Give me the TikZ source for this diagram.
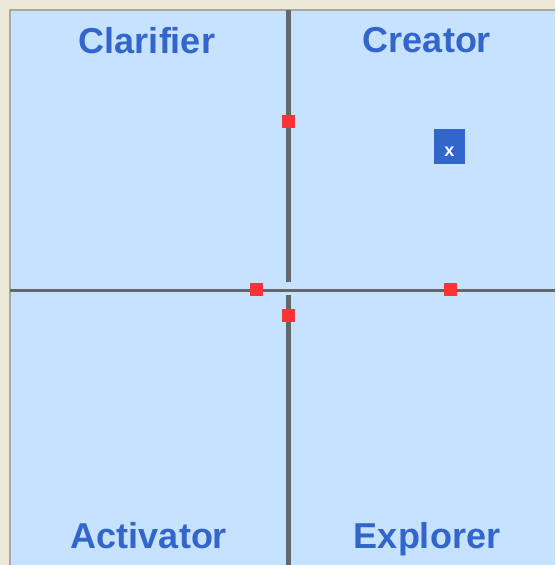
\documentclass[tikz,border=0pt]{standalone}
\usepackage{fontspec}
\setmainfont{Liberation Sans}
\usepackage{xcolor}
\usepackage{tikz}
\definecolor{panelblue}{RGB}{198,226,255}
\definecolor{labelblue}{RGB}{51,102,204}
\definecolor{axisgray}{RGB}{102,102,102}
\definecolor{markred}{RGB}{255,51,51}
\definecolor{framebeige}{RGB}{236,233,216}
\definecolor{frameedge}{RGB}{172,168,153}

\begin{document}
\begin{tikzpicture}[x=1pt, y=-1pt,
  quadlabel/.style={text=labelblue, font=\fontsize{36}{38}\selectfont\bfseries, anchor=base, inner sep=0pt},
  marker/.style={fill=markred, minimum size=13pt, inner sep=0pt}]
\useasboundingbox (0,0) rectangle (555,565);
\fill[framebeige] (0,0) rectangle (555,565);
\fill[panelblue] (10,10) rectangle (555,565);
\draw[frameedge, line width=1.5pt] (10,565) -- (10,10) -- (555,10);
% axes
\draw[axisgray, line width=3pt] (10,290.5) -- (555,290.5);
\draw[axisgray, line width=4.5pt] (288.5,10) -- (288.5,282);
\draw[axisgray, line width=4.5pt] (288.5,295) -- (288.5,565);
% quadrant names
\node[quadlabel] (clarifier) at (147,53) {Clarifier};
\node[quadlabel] (creator) at (427,52) {Creator};
\node[quadlabel] (activator) at (149,548) {Activator};
\node[quadlabel] (explorer) at (427,548) {Explorer};
% markers
\node[marker] (mtop) at (288.5,121.5) {};
\node[marker] (mleft) at (256.5,289.5) {};
\node[marker] (mbottom) at (288.5,315.5) {};
\node[marker] (mright) at (450.5,289.5) {};
\node[fill=labelblue, text=white, minimum width=31pt, minimum height=35pt, inner sep=0pt,
  text height=19pt, text depth=0pt, font=\fontsize{18}{20}\selectfont\bfseries] (result) at (449.5,146.5) {x};
\end{tikzpicture}
\end{document}
